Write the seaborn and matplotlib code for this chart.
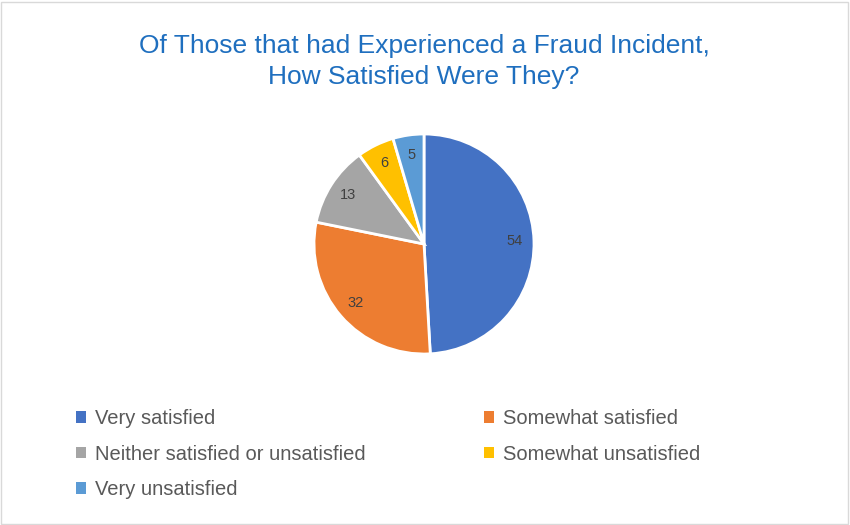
import matplotlib
matplotlib.use("Agg")
import matplotlib.pyplot as plt
import matplotlib.patches as mpatches
import numpy as np
import seaborn as sns

categories = ["Very satisfied", "Somewhat satisfied", "Neither satisfied or unsatisfied",
              "Somewhat unsatisfied", "Very unsatisfied"]
counts = [54, 32, 13, 6, 5]
colors = ["#4472C4", "#ED7D31", "#A5A5A5", "#FFC000", "#5B9BD5"]
title = "Of Those that had Experienced a Fraud Incident,\nHow Satisfied Were They?"

sns.set_theme(style="white")
plt.rcParams["font.family"] = ["Liberation Sans", "DejaVu Sans"]

W, H = 850, 525
fig = plt.figure(figsize=(W / 100, H / 100), dpi=100)
fig.patch.set_facecolor("white")

# chart border
fig.add_artist(mpatches.Rectangle((1 / W, 1 / H), 1 - 3 / W, 1 - 3 / H, transform=fig.transFigure,
                                  fill=False, edgecolor="#D9D9D9", linewidth=1))

# pie area: centre ~(424, 244) px, radius ~110 px
cx, cy, r = 424, 244, 110
ax = fig.add_axes([(cx - r) / W, (H - cy - r) / H, 2 * r / W, 2 * r / H])
wedges, texts = ax.pie(counts, colors=colors, startangle=90, counterclock=False,
                       radius=1, wedgeprops=dict(edgecolor="white", linewidth=2))
ax.set_xlim(-1, 1)
ax.set_ylim(-1, 1)
ax.set_aspect("equal")
ax.axis("off")

# data labels inside the slices
total = sum(counts)
angle = 90.0
for v in counts:
    span = 360.0 * v / total
    mid = np.deg2rad(angle - span / 2)
    ax.text(0.82 * np.cos(mid), 0.82 * np.sin(mid), str(v), ha="center", va="center",
            fontsize=10.5, color="#404040")
    angle -= span

fig.text(cx / W, 1 - 61.5 / H, title, ha="center", va="center", fontsize=19,
         color="#1F6FBF", linespacing=1.38)

# legend filled row by row, like Excel
order = [0, 2, 4, 1, 3]
handles = [mpatches.Patch(facecolor=colors[i], edgecolor="none") for i in order]
labels = [categories[i] for i in order]
fig.legend(handles, labels, ncol=2, loc="upper left",
           bbox_to_anchor=(58 / W, 1 - 391 / H), frameon=False,
           fontsize=14.5, labelcolor="#595959", handlelength=0.5, handleheight=0.5,
           handletextpad=0.45, columnspacing=5.85, labelspacing=0.82)

fig.savefig("out.png", dpi=100, facecolor="white")
